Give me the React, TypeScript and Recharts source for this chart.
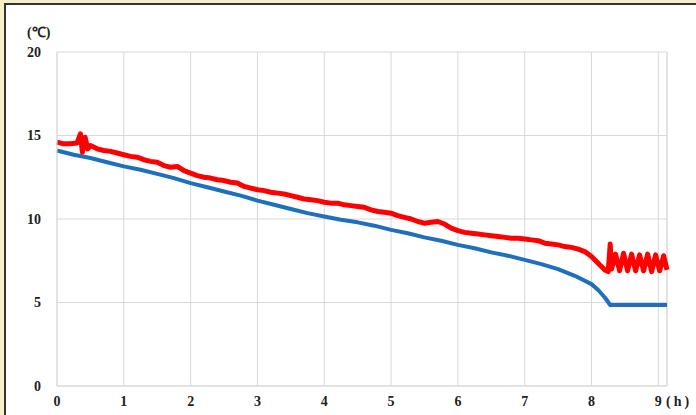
import React from "react";
import { CartesianGrid, Line, LineChart, ReferenceLine, XAxis, YAxis } from "recharts";

// hours since start
const X_TICKS = [0, 1, 2, 3, 4, 5, 6, 7, 8, 9];
const Y_TICKS = [0, 5, 10, 15, 20];
const X_MAX = 9.13;

// blue series (time h, temp ℃)
const blueTimes = [0, 0.25, 0.5, 0.75, 1, 1.25, 1.5, 1.75, 2, 2.25, 2.5, 2.75, 3, 3.25, 3.5, 3.75, 4, 4.25, 4.5, 4.75, 5, 5.25, 5.5, 5.75, 6, 6.25, 6.5, 6.75, 7, 7.25, 7.5, 7.75, 8, 8.1, 8.2, 8.28, 9.13];
const blueTemps = [14.1, 13.85, 13.65, 13.4, 13.15, 12.95, 12.7, 12.45, 12.15, 11.9, 11.65, 11.4, 11.1, 10.85, 10.6, 10.35, 10.15, 9.95, 9.8, 9.6, 9.35, 9.15, 8.9, 8.7, 8.45, 8.25, 8.0, 7.8, 7.55, 7.3, 7.0, 6.6, 6.1, 5.75, 5.3, 4.85, 4.85];

// red series (time h, temp ℃)
const redTimes = [0, 0.1, 0.2, 0.3, 0.35, 0.38, 0.42, 0.46, 0.5, 0.6, 0.7, 0.8, 0.9, 1, 1.1, 1.2, 1.3, 1.4, 1.5, 1.6, 1.7, 1.8, 1.9, 2, 2.1, 2.2, 2.3, 2.4, 2.5, 2.6, 2.7, 2.8, 2.9, 3, 3.1, 3.2, 3.3, 3.4, 3.5, 3.6, 3.7, 3.8, 3.9, 4, 4.1, 4.2, 4.3, 4.4, 4.5, 4.6, 4.7, 4.8, 4.9, 5, 5.1, 5.2, 5.3, 5.4, 5.5, 5.6, 5.7, 5.8, 5.9, 6, 6.1, 6.2, 6.3, 6.4, 6.5, 6.6, 6.7, 6.8, 6.9, 7, 7.1, 7.2, 7.3, 7.4, 7.5, 7.6, 7.7, 7.8, 7.9, 8, 8.1, 8.2, 8.25, 8.28, 8.3, 8.36, 8.42, 8.48, 8.54, 8.6, 8.66, 8.72, 8.78, 8.84, 8.9, 8.96, 9.02, 9.08, 9.13];
const redTemps = [14.6, 14.5, 14.5, 14.55, 15.1, 14.0, 14.9, 14.2, 14.4, 14.2, 14.1, 14.05, 13.95, 13.85, 13.75, 13.7, 13.55, 13.45, 13.4, 13.2, 13.1, 13.15, 12.9, 12.75, 12.6, 12.5, 12.45, 12.35, 12.3, 12.2, 12.15, 11.95, 11.85, 11.75, 11.7, 11.6, 11.55, 11.5, 11.4, 11.3, 11.2, 11.15, 11.1, 11.0, 10.95, 10.95, 10.85, 10.8, 10.75, 10.7, 10.55, 10.45, 10.4, 10.35, 10.2, 10.1, 10.0, 9.85, 9.75, 9.8, 9.85, 9.7, 9.45, 9.3, 9.2, 9.15, 9.1, 9.05, 9.0, 8.95, 8.9, 8.85, 8.85, 8.8, 8.75, 8.7, 8.55, 8.5, 8.45, 8.35, 8.3, 8.2, 8.05, 7.75, 7.35, 6.95, 6.85, 8.5, 7.0, 7.9, 6.9, 7.95, 6.9, 7.9, 6.9, 7.85, 6.9, 7.9, 6.85, 7.85, 6.9, 7.8, 6.95];

const blueData = blueTimes.map((t, i) => ({ t, v: blueTemps[i] }));
const redData = redTimes.map((t, i) => ({ t, v: redTemps[i] }));

const tickStyle = { fontFamily: "'Liberation Serif', serif", fontWeight: "bold" as const, fontSize: 14, fill: "#222" };
const GRID = "#d9d9d9";

export default function App() {
  return (
    <div style={{ position: "fixed", left: 0, top: 0, width: 696, height: 415, background: "#fff", overflow: "hidden" }}>
      {/* frame strips */}
      <div style={{ position: "absolute", left: 0, top: 0, width: 696, height: 4, background: "#f7efc9" }} />
      <div style={{ position: "absolute", left: 0, top: 0, width: 4, height: 415, background: "#f7efc9" }} />
      <div style={{ position: "absolute", left: 4, top: 3, width: 692, height: 2, background: "#333" }} />
      <div style={{ position: "absolute", left: 4, top: 3, width: 2, height: 412, background: "#333" }} />

      <div style={{ position: "absolute", left: 0, top: 0 }}>
        <LineChart width={696} height={415} margin={{ top: 52, right: 29, left: 0, bottom: 0 }}>
          <CartesianGrid stroke={GRID} strokeWidth={1} />
          <XAxis
            type="number"
            dataKey="t"
            domain={[0, X_MAX]}
            ticks={X_TICKS}
            height={29}
            tickSize={0}
            tickMargin={10}
            tick={tickStyle}
            stroke={GRID}
            allowDuplicatedCategory={false}
          />
          <YAxis
            type="number"
            domain={[0, 20]}
            ticks={Y_TICKS}
            width={57}
            tickSize={0}
            tickMargin={16}
            tick={tickStyle}
            stroke={GRID}
          />
          <ReferenceLine x={X_MAX} stroke={GRID} />
          <Line
            data={blueData}
            dataKey="v"
            stroke="#1f6fbf"
            strokeWidth={4}
            dot={false}
            isAnimationActive={false}
            strokeLinejoin="round"
          />
          <Line
            data={redData}
            dataKey="v"
            stroke="#ff0000"
            strokeWidth={5}
            dot={false}
            isAnimationActive={false}
            strokeLinejoin="round"
          />
        </LineChart>
      </div>

      <span style={{ position: "absolute", left: 27, top: 25, ...labelCss }}>(℃)</span>
      <span style={{ position: "absolute", left: 666, top: 394, letterSpacing: 3, ...labelCss }}>(h)</span>
    </div>
  );
}

const labelCss: React.CSSProperties = {
  fontFamily: "'Liberation Serif', serif",
  fontWeight: "bold",
  fontSize: 14,
  color: "#222",
  lineHeight: "16px",
  whiteSpace: "nowrap",
};
